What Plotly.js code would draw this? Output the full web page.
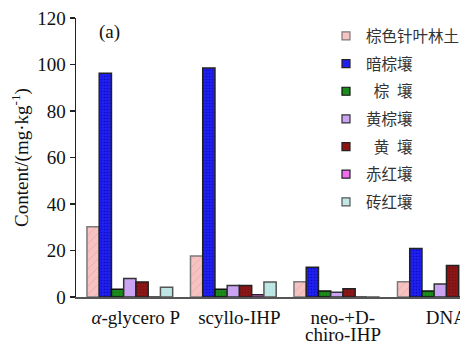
<!DOCTYPE html>
<html>
<head>
<meta charset="utf-8">
<script src="https://cdn.plot.ly/plotly-3.0.1.min.js"></script>
<style>
html,body{margin:0;padding:0;background:#fff;overflow:hidden;}
#chart{width:460px;height:346px;}
</style>
</head>
<body>
<div id="chart"></div>
<script>
// Categories (x axis tick labels)
const categories = ["alpha", "scyllo", "neo", "dna"];
const tickLabels = ["<i>α</i>-glycero P", "scyllo-IHP", "neo-+D-", "DNA"];
const tickLabelSecondLine = ["", "", "chiro-IHP", ""];

// Series names (legend)
const seriesNames = ["棕色针叶林土", "暗棕壤", "\u2002棕\u2002壤", "黄棕壤", "\u2002黄\u2002壤", "赤红壤", "砖红壤"];

// Series values (mg/kg)
const brownConiferous = [30.2, 17.6, 6.6, 6.6];
const darkBrown       = [96.2, 98.5, 12.8, 20.9];
const brownEarth      = [3.3, 3.3, 2.6, 2.6];
const yellowBrown     = [8.0, 5.0, 2.0, 5.6];
const yellowEarth     = [6.5, 5.0, 3.6, 13.6];
const lateriticRed    = [0, 1.0, 0, 0];
const latosol         = [4.2, 6.5, 0, 0];

const seriesValues = [brownConiferous, darkBrown, brownEarth, yellowBrown, yellowEarth, lateriticRed, latosol];

// Styles
const fills    = ["#f6c2c2", "#1f1fef", "#1c8c1c", "#cba3f3", "#8c1616", "#f26ef0", "#c0e8e6"];
const outlines = ["#7a7a7a", "#222222", "#111111", "#333333", "#222222", "#222222", "#555555"];
const patterns = [
  {shape: "/", fgcolor: "#eaaaaa", size: 6, solidity: 0.15},
  {shape: ".", fgcolor: "#0c0cb8", size: 3, solidity: 0.2},
  {shape: ".", fgcolor: "#137413", size: 3, solidity: 0.2},
  {shape: "", fgcolor: "#cba3f3", size: 3, solidity: 0.2},
  {shape: ".", fgcolor: "#741010", size: 3, solidity: 0.2},
  {shape: "", fgcolor: "#f26ef0", size: 3, solidity: 0.2},
  {shape: "+", fgcolor: "#aad6d4", size: 3, solidity: 0.15}
];

const traces = [];
seriesValues.forEach((vals, i) => {
  traces.push({
    type: "bar",
    x: categories,
    y: vals,
    name: seriesNames[i],
    showlegend: false,
    marker: {
      color: fills[i],
      line: {color: outlines[i], width: 1.5},
      pattern: Object.assign({fillmode: "replace", bgcolor: fills[i]}, patterns[i])
    },
    hoverinfo: "skip"
  });
});
// legend entries (small square swatches)
seriesValues.forEach((vals, i) => {
  traces.push({
    type: "scatter",
    mode: "markers",
    x: [null],
    y: [null],
    name: seriesNames[i],
    legendgroup: "g" + i,
    showlegend: true,
    marker: {symbol: "square", size: 8, color: fills[i], line: {color: outlines[i], width: 1.2}}
  });
});

const serif = "Liberation Serif, Times New Roman, serif";
const annotations = [{
  text: "(a)",
  xref: "paper", yref: "paper",
  x: 0.055, y: 0.95,
  xanchor: "left", yanchor: "middle",
  showarrow: false,
  font: {family: serif, size: 19, color: "#111"}
}];
tickLabelSecondLine.forEach((t, i) => {
  if (t) {
    annotations.push({
      text: t,
      xref: "x", yref: "paper",
      x: categories[i], y: 0,
      xanchor: "center", yanchor: "middle",
      yshift: -37, xshift: 6,
      showarrow: false,
      font: {family: serif, size: 19, color: "#111"}
    });
  }
});

const layout = {
  width: 460,
  height: 346,
  margin: {l: 76, r: 0, t: 18, b: 49, autoexpand: false},
  paper_bgcolor: "#ffffff",
  plot_bgcolor: "#ffffff",
  barmode: "group",
  bargap: 0.172,
  bargroupgap: 0,
  font: {family: serif, size: 19, color: "#111"},
  xaxis: {
    type: "category",
    range: [-0.52, 3.19],
    tickvals: categories,
    ticktext: tickLabels,
    showline: true,
    linecolor: "#555",
    linewidth: 2,
    ticks: "",
    showgrid: false,
    zeroline: false,
    automargin: false,
    ticklabelshift: 6,
    ticklabelstandoff: 2,
    tickfont: {family: serif, size: 19, color: "#111"}
  },
  yaxis: {
    range: [0, 120],
    tickvals: [0, 20, 40, 60, 80, 100, 120],
    ticks: "outside",
    ticklen: 5,
    tickwidth: 1.5,
    tickcolor: "#222",
    showline: true,
    linecolor: "#222",
    linewidth: 1.5,
    showgrid: false,
    zeroline: false,
    automargin: false,
    tickfont: {family: serif, size: 19, color: "#111"},
    title: {
      text: "Content/(mg·kg<sup>-1</sup>)",
      font: {family: serif, size: 19, color: "#111"},
      standoff: 3
    }
  },
  legend: {
    x: 0.651,
    xanchor: "left",
    y: 0.995,
    yanchor: "top",
    traceorder: "grouped",
    tracegroupgap: 4.5,
    bgcolor: "rgba(0,0,0,0)",
    font: {family: "Noto Sans CJK SC, sans-serif", size: 15.5, color: "#333"},
    itemwidth: 30
  },
  annotations: annotations
};

Plotly.newPlot("chart", traces, layout, {displayModeBar: false, staticPlot: true});
</script>
</body>
</html>
